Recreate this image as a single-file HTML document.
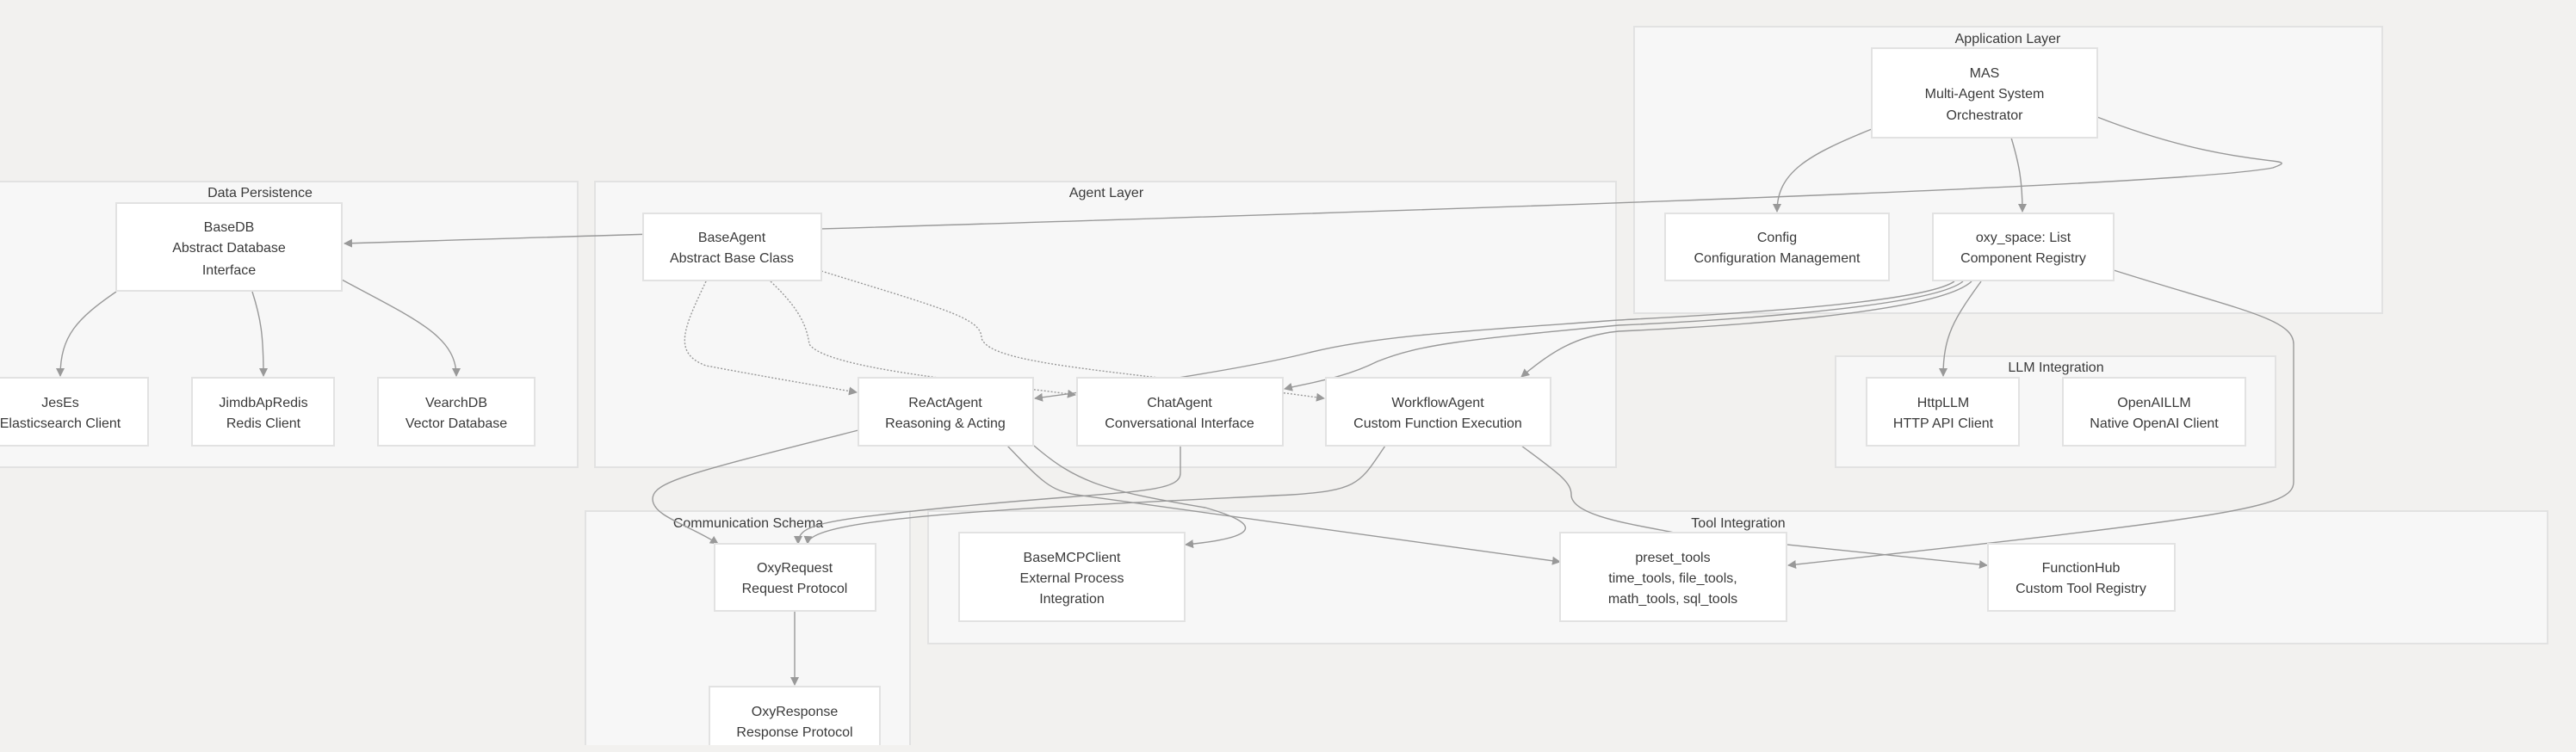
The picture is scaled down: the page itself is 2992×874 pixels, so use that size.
<!DOCTYPE html>
<html><head><meta charset="utf-8"><style>
html,body{margin:0;padding:0;background:#f2f1ef;}
svg{display:block;}
text{font-family:"Liberation Sans",sans-serif;font-size:16px;fill:#3a3a3a;text-anchor:middle;}
.cl{fill:#f7f7f7;stroke:#e2e2e2;stroke-width:2;}
.nd{fill:#fff;stroke:#e2e2e2;stroke-width:2;}
.e{fill:none;stroke:#999;stroke-width:1.4;}
.d{fill:none;stroke:#999;stroke-width:1.4;stroke-dasharray:2,2;}
</style></head><body>
<svg width="2992" height="874" viewBox="0 0 2992 874" xmlns="http://www.w3.org/2000/svg">
<defs><marker id="a" markerWidth="10" markerHeight="10" refX="9" refY="5" orient="auto" markerUnits="userSpaceOnUse"><path d="M0,0 L10,5 L0,10 z" fill="#999"/></marker></defs>
<rect x="0" y="0" width="2992" height="874" fill="#f2f1ef"/>
<rect class="cl" x="-5" y="211" width="676" height="332"/>
<text x="302" y="229">Data Persistence</text>
<rect class="cl" x="691" y="211" width="1186" height="332"/>
<text x="1285" y="229">Agent Layer</text>
<rect class="cl" x="1898" y="31" width="869" height="333"/>
<text x="2332" y="50">Application Layer</text>
<rect class="cl" x="2132" y="414" width="511" height="129"/>
<text x="2388" y="432">LLM Integration</text>
<rect class="cl" x="680" y="594" width="377" height="290"/>
<text x="869" y="613">Communication Schema</text>
<rect class="cl" x="1078" y="594" width="1881" height="154"/>
<text x="2019" y="613">Tool Integration</text>
<path class="e" marker-end="url(#a)" d="M2436,136 C2600,200 2680,180 2640,195 C2500,222 1200,258 400,283"/>
<path class="e" marker-end="url(#a)" d="M2174,150 C2100,180 2064,200 2064,246"/>
<path class="e" marker-end="url(#a)" d="M2336,160 C2345,190 2349,210 2349,246"/>
<path class="e" marker-end="url(#a)" d="M135,339 C90,370 70,390 70,437"/>
<path class="e" marker-end="url(#a)" d="M293,339 C303,370 306,390 306,437"/>
<path class="e" marker-end="url(#a)" d="M397,325 C480,370 530,390 530,437"/>
<path class="d" marker-end="url(#a)" d="M820,327 C795,380 780,410 820,425 C900,440 960,450 995,456"/>
<path class="d" marker-end="url(#a)" d="M895,327 C930,360 937,380 940,400 C960,430 1150,445 1249,459"/>
<path class="d" marker-end="url(#a)" d="M954,315 C1100,360 1140,370 1140,393 C1150,425 1300,430 1538,463"/>
<path class="e" marker-end="url(#a)" d="M2270,327 C2230,355 1950,368 1880,372 C1700,385 1600,390 1520,410 C1440,430 1300,450 1202,463"/>
<path class="e" marker-end="url(#a)" d="M2280,327 C2240,360 1950,375 1880,378 C1700,395 1650,400 1600,420 C1560,440 1520,445 1492,452"/>
<path class="e" marker-end="url(#a)" d="M2290,327 C2250,365 1990,380 1880,385 C1830,390 1800,410 1767,438"/>
<path class="e" marker-end="url(#a)" d="M2301,327 C2270,370 2257,390 2257,437"/>
<path class="e" marker-end="url(#a)" d="M2455,314 C2600,360 2664,370 2664,400 L2664,560 C2664,590 2600,600 2077,657"/>
<path class="e" marker-end="url(#a)" d="M997,500 C800,550 758,560 758,580 C758,600 800,610 834,632"/>
<path class="e" marker-end="url(#a)" d="M1371,518 L1371,550 C1371,575 1300,570 1100,590 C950,605 927,610 927,632"/>
<path class="e" marker-end="url(#a)" d="M1609,518 C1580,560 1580,570 1500,575 C1200,590 940,600 938,632"/>
<path class="e" marker-end="url(#a)" d="M1170,518 C1210,560 1220,570 1250,575 L1812,653"/>
<path class="e" marker-end="url(#a)" d="M1201,518 C1250,560 1280,570 1400,590 C1470,610 1460,625 1377,633"/>
<path class="e" marker-end="url(#a)" d="M1767,518 C1810,550 1825,560 1825,575 C1825,600 1900,610 1950,620 L2308,657"/>
<path class="e" marker-end="url(#a)" d="M923,710 L923,796"/>
<rect class="nd" x="135" y="236" width="262" height="102"/>
<text x="266" y="269">BaseDB</text><text x="266" y="293">Abstract Database</text><text x="266" y="319">Interface</text>
<rect class="nd" x="-5" y="439" width="177" height="79"/>
<text x="70" y="473">JesEs</text><text x="70" y="497">Elasticsearch Client</text>
<rect class="nd" x="223" y="439" width="165" height="79"/>
<text x="306" y="473">JimdbApRedis</text><text x="306" y="497">Redis Client</text>
<rect class="nd" x="439" y="439" width="182" height="79"/>
<text x="530" y="473">VearchDB</text><text x="530" y="497">Vector Database</text>
<rect class="nd" x="747" y="248" width="207" height="78"/>
<text x="850" y="281">BaseAgent</text><text x="850" y="305">Abstract Base Class</text>
<rect class="nd" x="997" y="439" width="203" height="79"/>
<text x="1098" y="473">ReActAgent</text><text x="1098" y="497">Reasoning &amp; Acting</text>
<rect class="nd" x="1251" y="439" width="239" height="79"/>
<text x="1370" y="473">ChatAgent</text><text x="1370" y="497">Conversational Interface</text>
<rect class="nd" x="1540" y="439" width="261" height="79"/>
<text x="1670" y="473">WorkflowAgent</text><text x="1670" y="497">Custom Function Execution</text>
<rect class="nd" x="2174" y="56" width="262" height="104"/>
<text x="2305" y="90">MAS</text><text x="2305" y="114">Multi-Agent System</text><text x="2305" y="139">Orchestrator</text>
<rect class="nd" x="1934" y="248" width="260" height="78"/>
<text x="2064" y="281">Config</text><text x="2064" y="305">Configuration Management</text>
<rect class="nd" x="2245" y="248" width="210" height="78"/>
<text x="2350" y="281">oxy_space: List</text><text x="2350" y="305">Component Registry</text>
<rect class="nd" x="2168" y="439" width="177" height="79"/>
<text x="2257" y="473">HttpLLM</text><text x="2257" y="497">HTTP API Client</text>
<rect class="nd" x="2396" y="439" width="212" height="79"/>
<text x="2502" y="473">OpenAILLM</text><text x="2502" y="497">Native OpenAI Client</text>
<rect class="nd" x="830" y="632" width="187" height="78"/>
<text x="923" y="665">OxyRequest</text><text x="923" y="689">Request Protocol</text>
<rect class="nd" x="824" y="798" width="198" height="90"/>
<text x="923" y="832">OxyResponse</text><text x="923" y="856">Response Protocol</text>
<rect class="nd" x="1114" y="619" width="262" height="103"/>
<text x="1245" y="653">BaseMCPClient</text><text x="1245" y="677">External Process</text><text x="1245" y="701">Integration</text>
<rect class="nd" x="1812" y="619" width="263" height="103"/>
<text x="1943" y="653">preset_tools</text><text x="1943" y="677">time_tools, file_tools,</text><text x="1943" y="701">math_tools, sql_tools</text>
<rect class="nd" x="2309" y="632" width="217" height="78"/>
<text x="2417" y="665">FunctionHub</text><text x="2417" y="689">Custom Tool Registry</text>
<rect x="0" y="866" width="2992" height="8" fill="#f2f1ef"/>
</svg>
</body></html>
